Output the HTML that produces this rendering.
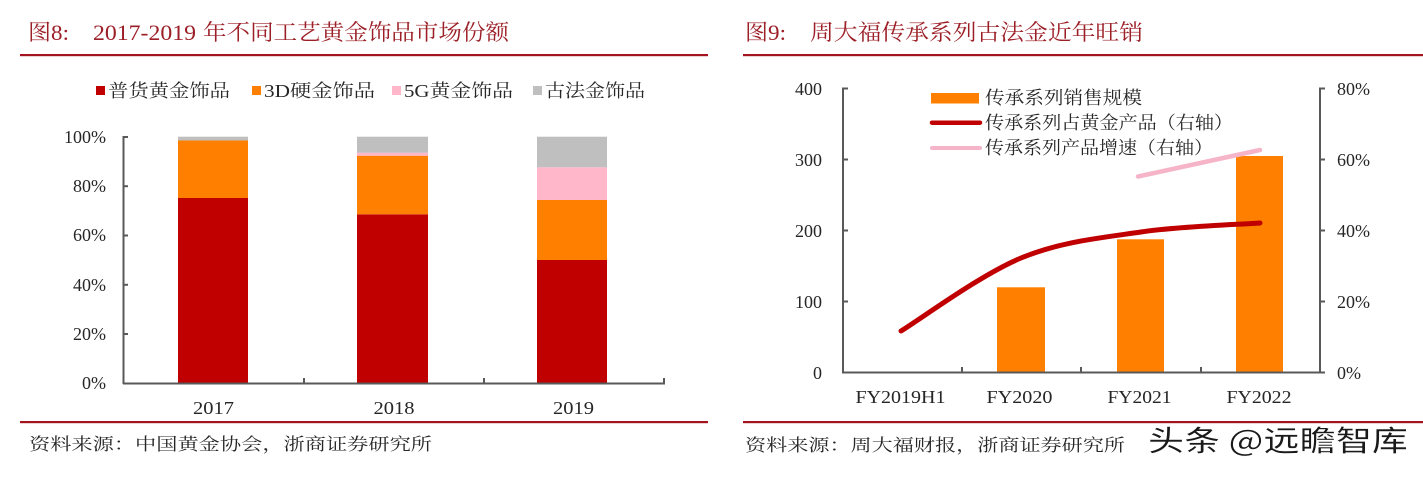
<!DOCTYPE html>
<html>
<head>
<meta charset="utf-8">
<style>
html,body{margin:0;padding:0;background:#fff;}
svg{display:block;}
.t{font-family:"Liberation Serif","Noto Serif CJK SC",serif;}
</style>
</head>
<body>
<svg width="1423" height="477" viewBox="0 0 1423 477" xmlns="http://www.w3.org/2000/svg">
<rect width="1423" height="477" fill="#fff"/>

<!-- ===== LEFT: Figure 8 ===== -->
<g class="t" fill="#9c1f27" font-size="22">
  <text x="28" y="40" textLength="41" lengthAdjust="spacingAndGlyphs">图8:</text>
  <text x="93" y="40" textLength="103" lengthAdjust="spacingAndGlyphs">2017-2019</text>
  <text x="203" y="40" textLength="306" lengthAdjust="spacingAndGlyphs">年不同工艺黄金饰品市场份额</text>
</g>
<rect x="20" y="54" width="688" height="2.2" fill="#a3141f"/>

<!-- legend -->
<g class="t" font-size="18" fill="#262626">
  <rect x="96" y="86" width="9" height="9" fill="#c00000"/>
  <text x="108" y="97" textLength="122" lengthAdjust="spacingAndGlyphs">普货黄金饰品</text>
  <rect x="252" y="86" width="9" height="9" fill="#ff8000"/>
  <text x="264" y="97" textLength="111" lengthAdjust="spacingAndGlyphs">3D硬金饰品</text>
  <rect x="392" y="86" width="9" height="9" fill="#ffb7c9"/>
  <text x="404" y="97" textLength="109" lengthAdjust="spacingAndGlyphs">5G黄金饰品</text>
  <rect x="533" y="86" width="9" height="9" fill="#bfbfbf"/>
  <text x="545" y="97" textLength="100" lengthAdjust="spacingAndGlyphs">古法金饰品</text>
</g>

<!-- bars -->
<g>
  <rect x="178" y="198" width="70" height="185" fill="#c00000"/>
  <rect x="178" y="140.5" width="70" height="57.5" fill="#ff8000"/>
  <rect x="178" y="136.7" width="70" height="3.8" fill="#bfbfbf"/>

  <rect x="357" y="214.3" width="71" height="168.7" fill="#c00000"/>
  <rect x="357" y="155.7" width="71" height="58.6" fill="#ff8000"/>
  <rect x="357" y="152.7" width="71" height="3" fill="#ffb7c9"/>
  <rect x="357" y="136.7" width="71" height="16" fill="#bfbfbf"/>

  <rect x="537" y="260" width="70" height="123" fill="#c00000"/>
  <rect x="537" y="200" width="70" height="60" fill="#ff8000"/>
  <rect x="537" y="167.3" width="70" height="32.7" fill="#ffb7c9"/>
  <rect x="537" y="136.7" width="70" height="30.6" fill="#bfbfbf"/>
</g>

<!-- axes left -->
<g stroke="#595959" stroke-width="2" fill="none">
  <line x1="123.5" y1="136" x2="123.5" y2="384"/>
  <line x1="123" y1="383.5" x2="665" y2="383.5"/>
  <line x1="123" y1="137" x2="128" y2="137"/>
  <line x1="123" y1="186.2" x2="128" y2="186.2"/>
  <line x1="123" y1="235.5" x2="128" y2="235.5"/>
  <line x1="123" y1="284.8" x2="128" y2="284.8"/>
  <line x1="123" y1="334" x2="128" y2="334"/>
  <line x1="304" y1="383" x2="304" y2="378"/>
  <line x1="484" y1="383" x2="484" y2="378"/>
  <line x1="664" y1="383" x2="664" y2="378"/>
</g>
<g class="t" font-size="18" fill="#262626" text-anchor="end">
  <text x="106" y="143">100%</text>
  <text x="106" y="192">80%</text>
  <text x="106" y="241">60%</text>
  <text x="106" y="291">40%</text>
  <text x="106" y="340">20%</text>
  <text x="106" y="389">0%</text>
</g>
<g class="t" font-size="18" fill="#262626" text-anchor="middle">
  <text x="213.5" y="414" textLength="41" lengthAdjust="spacingAndGlyphs">2017</text>
  <text x="394" y="414" textLength="41" lengthAdjust="spacingAndGlyphs">2018</text>
  <text x="573.5" y="414" textLength="41" lengthAdjust="spacingAndGlyphs">2019</text>
</g>
<rect x="20" y="421" width="688" height="2.2" fill="#a3141f"/>
<text class="t" x="29" y="450" font-size="17" fill="#262626" textLength="403" lengthAdjust="spacingAndGlyphs">资料来源：中国黄金协会，浙商证券研究所</text>

<!-- ===== RIGHT: Figure 9 ===== -->
<g class="t" fill="#9c1f27" font-size="22">
  <text x="745" y="40" textLength="41" lengthAdjust="spacingAndGlyphs">图9:</text>
  <text x="810" y="40" textLength="333" lengthAdjust="spacingAndGlyphs">周大福传承系列古法金近年旺销</text>
</g>
<rect x="743" y="54" width="680" height="2.2" fill="#a3141f"/>

<!-- bars -->
<g fill="#ff8000">
  <rect x="997" y="287.3" width="48" height="85.2"/>
  <rect x="1117" y="239.3" width="47" height="133.2"/>
  <rect x="1236" y="156" width="47" height="216.5"/>
</g>

<!-- lines -->
<path d="M901,331 C921,318.8 981,274.5 1021,258 C1061,241.5 1101.2,237.8 1141,232 C1180.8,226.2 1240.2,224.5 1260,223" fill="none" stroke="#c00000" stroke-width="5" stroke-linecap="round"/>
<path d="M1138,176.5 L1260,150" fill="none" stroke="#f6b4c9" stroke-width="4.5" stroke-linecap="round"/>

<!-- legend -->
<rect x="931" y="93" width="48" height="10.5" fill="#ff8000"/>
<line x1="932" y1="122.7" x2="980" y2="122.7" stroke="#c00000" stroke-width="4.5" stroke-linecap="round"/>
<line x1="932" y1="148" x2="980" y2="148" stroke="#f6b4c9" stroke-width="4" stroke-linecap="round"/>
<g class="t" font-size="18" fill="#262626">
  <text x="985" y="104" textLength="157" lengthAdjust="spacingAndGlyphs">传承系列销售规模</text>
  <text x="985" y="129" textLength="248" lengthAdjust="spacingAndGlyphs">传承系列占黄金产品（右轴）</text>
  <text x="985" y="154" textLength="228" lengthAdjust="spacingAndGlyphs">传承系列产品增速（右轴）</text>
</g>

<!-- axes right -->
<g stroke="#595959" stroke-width="2" fill="none">
  <line x1="843" y1="87.5" x2="843" y2="373"/>
  <line x1="842" y1="372.5" x2="1321" y2="372.5"/>
  <line x1="843" y1="88.5" x2="848" y2="88.5"/>
  <line x1="843" y1="159.5" x2="848" y2="159.5"/>
  <line x1="843" y1="230.5" x2="848" y2="230.5"/>
  <line x1="843" y1="301.5" x2="848" y2="301.5"/>
  <line x1="1320" y1="87.5" x2="1320" y2="373"/>
  <line x1="1320" y1="88.5" x2="1325" y2="88.5"/>
  <line x1="1320" y1="159.5" x2="1325" y2="159.5"/>
  <line x1="1320" y1="230.5" x2="1325" y2="230.5"/>
  <line x1="1320" y1="301.5" x2="1325" y2="301.5"/>
  <line x1="1320" y1="372.5" x2="1325" y2="372.5"/>
  <line x1="962" y1="372" x2="962" y2="367"/>
  <line x1="1081" y1="372" x2="1081" y2="367"/>
  <line x1="1201" y1="372" x2="1201" y2="367"/>
</g>
<g class="t" font-size="18" fill="#262626" text-anchor="end">
  <text x="822" y="95">400</text>
  <text x="822" y="166">300</text>
  <text x="822" y="237">200</text>
  <text x="822" y="308">100</text>
  <text x="822" y="379">0</text>
</g>
<g class="t" font-size="18" fill="#262626">
  <text x="1337" y="95">80%</text>
  <text x="1337" y="166">60%</text>
  <text x="1337" y="237">40%</text>
  <text x="1337" y="308">20%</text>
  <text x="1337" y="379">0%</text>
</g>
<g class="t" font-size="18" fill="#262626" text-anchor="middle">
  <text x="900.5" y="403" textLength="90" lengthAdjust="spacingAndGlyphs">FY2019H1</text>
  <text x="1019.5" y="403" textLength="66" lengthAdjust="spacingAndGlyphs">FY2020</text>
  <text x="1139.5" y="403" textLength="64" lengthAdjust="spacingAndGlyphs">FY2021</text>
  <text x="1259" y="403" textLength="65" lengthAdjust="spacingAndGlyphs">FY2022</text>
</g>
<rect x="743" y="421" width="680" height="2.2" fill="#a3141f"/>
<text class="t" x="745" y="451" font-size="17" fill="#262626" textLength="380" lengthAdjust="spacingAndGlyphs">资料来源：周大福财报，浙商证券研究所</text>

<!-- watermark -->
<text x="1148" y="451" font-family="'Noto Sans CJK SC','WenQuanYi Zen Hei',sans-serif" font-size="29" font-weight="500" fill="#1a1a1a" stroke="#fff" stroke-width="0.6" textLength="260" lengthAdjust="spacingAndGlyphs">头条 @远瞻智库</text>
</svg>
</body>
</html>
